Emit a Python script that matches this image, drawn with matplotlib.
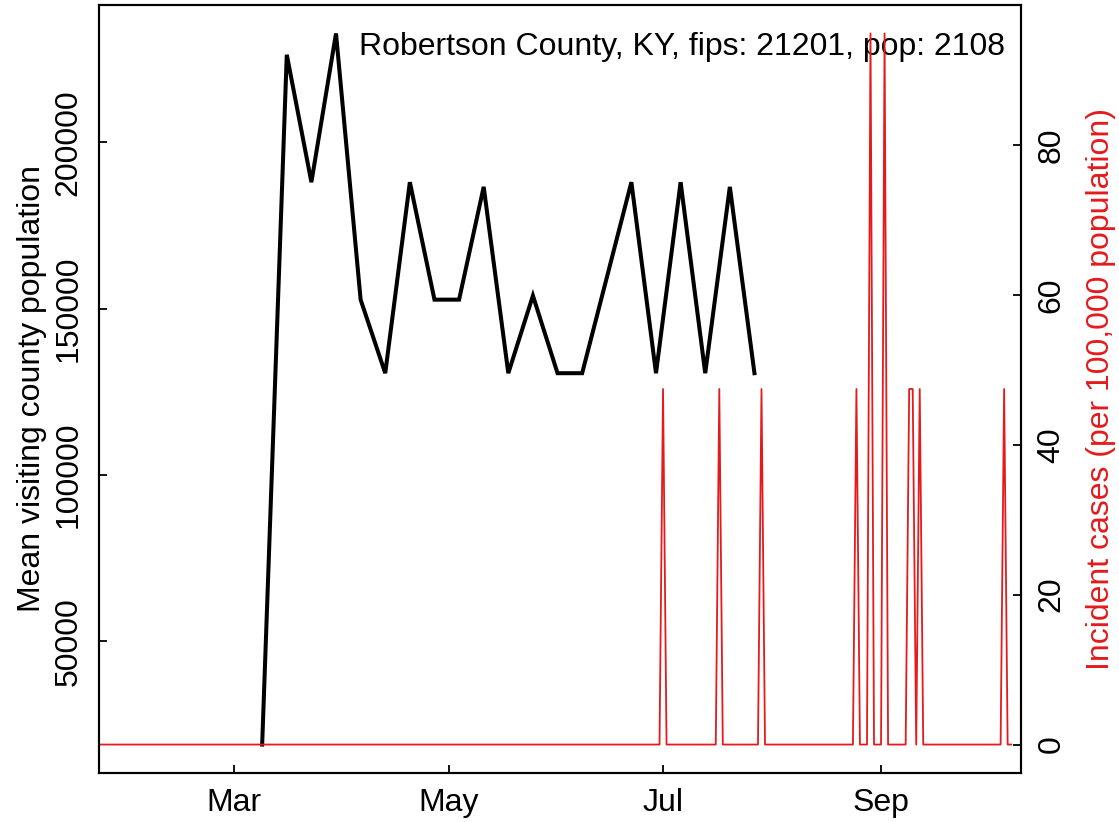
import pandas as pd
import matplotlib
matplotlib.use("Agg")
import matplotlib.pyplot as plt
import matplotlib.dates as mdates
from matplotlib.ticker import FixedLocator, FuncFormatter

# weekly mean visiting county population (black line)
visit_dates = pd.date_range("2020-03-09", periods=21, freq="7D")
visit_pop = [19000, 226300, 188000, 232700, 152700, 130600, 188000,
             152700, 152700, 186600, 130600, 153900, 130600, 130600,
             159300, 188000, 130600, 188000, 130600, 186600, 130600]

# daily incident cases (red line), zero except on these days
case_start, case_end = "2020-01-22", "2020-10-08"
case_days = ["2020-07-01", "2020-07-17", "2020-07-29", "2020-08-25", "2020-08-29",
             "2020-09-02", "2020-09-09", "2020-09-10", "2020-09-12", "2020-10-06"]
case_counts = [1, 1, 1, 1, 2, 2, 1, 1, 1, 1]
county_pop = 2108
label = "Robertson County, KY, fips: 21201, pop: 2108"

left_ticks = [50000, 100000, 150000, 200000]
right_ticks = [0, 20, 40, 60, 80]

cases = pd.Series(0.0, index=pd.date_range(case_start, case_end, freq="D"))
cases[pd.to_datetime(case_days)] = case_counts
incid = cases / county_pop * 100000

red = "#e41a1c"
plt.rcParams["font.family"] = ["Liberation Sans", "DejaVu Sans"]
plt.rcParams["font.size"] = 23

fig = plt.figure(figsize=(11.19, 8.22), dpi=100)
ax = fig.add_axes([99 / 1119, 49 / 822, 922 / 1119, 768 / 822])

ax.plot(visit_dates, visit_pop, color="black", lw=2.9, solid_joinstyle="miter")
lo, hi = min(visit_pop), max(visit_pop)
pad = (hi - lo) * 0.04
ax.set_ylim(lo - pad, hi + pad)
ax.yaxis.set_major_locator(FixedLocator(left_ticks))
ax.yaxis.set_major_formatter(FuncFormatter(lambda v, p: "%d" % v))

jul1 = pd.Timestamp("2020-07-01")
ax.set_xlim(jul1 - pd.Timedelta(days=160.4), jul1 + pd.Timedelta(days=101.8))
ax.xaxis.set_major_locator(mdates.MonthLocator(bymonth=[3, 5, 7, 9]))
ax.xaxis.set_major_formatter(mdates.DateFormatter("%b"))

ax.text(0.9826, 0.945, label, transform=ax.transAxes, ha="right", va="center")

ax2 = ax.twinx()
ax2.plot(incid.index, incid.values, color=red, lw=1.3)
top = incid.max()
ax2.set_ylim(-top * 0.04, top * 1.04)
ax2.yaxis.set_major_locator(FixedLocator(right_ticks))

for a in (ax, ax2):
    for s in a.spines.values():
        s.set_linewidth(1.5)
    a.tick_params(direction="in", length=6, width=1.3, pad=11)
ax.tick_params(axis="y", labelrotation=90)
ax2.tick_params(axis="y", labelrotation=90)
for t in ax.get_yticklabels() + ax2.get_yticklabels():
    t.set_va("center")

fig.text(32 / 1119, 1 - 389 / 822, "Mean visiting county population",
         rotation=90, ha="center", va="center")
fig.text(1101 / 1119, 1 - 389 / 822, "Incident cases (per 100,000 population)",
         rotation=90, ha="center", va="center", color=red)

fig.savefig("out.png", dpi=100)
